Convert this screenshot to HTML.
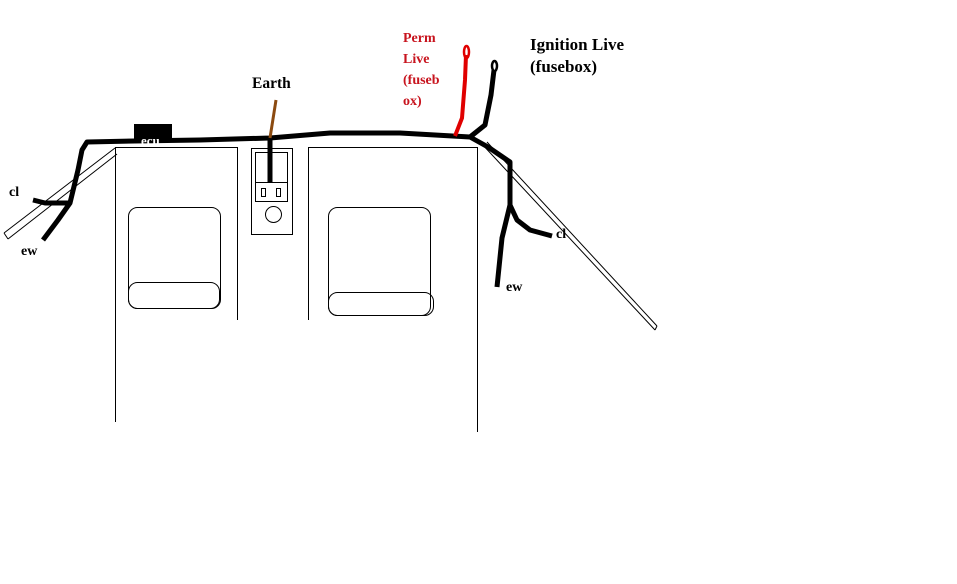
<!DOCTYPE html>
<html><head><meta charset="utf-8"><style>
html,body{margin:0;padding:0;background:#fff;}
svg{display:block;}
text{font-family:"Liberation Serif",serif;font-size:14px;}
</style></head><body>
<svg width="957" height="584" viewBox="0 0 957 584" xmlns="http://www.w3.org/2000/svg">
<rect width="957" height="584" fill="#fff"/>
<g fill="none" stroke="#000" stroke-width="1">
<path d="M115.5 422 V147.5 H237.5 V320"/>
<path d="M308.5 320 V147.5 H477.5 V432"/>
<rect x="128.5" y="207.5" width="92" height="101" rx="9"/>
<rect x="128.5" y="282.5" width="91" height="26" rx="9"/>
<rect x="328.5" y="207.5" width="102" height="108" rx="9"/>
<rect x="328.5" y="292.5" width="105" height="23" rx="9"/>
<rect x="251.5" y="148.5" width="41" height="86"/>
<rect x="255.5" y="152.5" width="32" height="49"/>
<line x1="255.5" y1="182.5" x2="287.5" y2="182.5"/>
<rect x="261.5" y="188.5" width="4" height="8"/>
<rect x="276.5" y="188.5" width="4" height="8"/>
<circle cx="273.5" cy="214.5" r="8"/>
<path d="M4 233 L115 148 M8 239 L117 154 M4 233 L8 239"/>
<path d="M481 143 L655 330 M487 142 L657 326 M655 330 L657 326"/>
</g>
<g fill="none" stroke="#000" stroke-width="5" stroke-linejoin="round" stroke-linecap="butt">
<path d="M43 240 L58 220 L70 203 L78 170 L82 150 L87 142 L135 141 L200 140 L270 138 L330 133 L400 133 L470 137 L488 147 L510 162 L510 205 L502 238 L497 287"/>
<path d="M33 200 L45 203 L70 203"/>
<path d="M510 205 L517 220 L530 230 L552 236"/>
<path d="M470 137 L485 125 L491 95 L494 70"/>
<path d="M270 138 V182"/>
</g>
<ellipse cx="494.5" cy="66" rx="2.5" ry="5" fill="none" stroke="#000" stroke-width="2.5"/>
<path d="M455 136 L462 118 L465 80 L466 55" fill="none" stroke="#e00000" stroke-width="4"/>
<ellipse cx="466.5" cy="52" rx="2.5" ry="6" fill="none" stroke="#e00000" stroke-width="2.5"/>
<path d="M276 100 L270 138" stroke="#8b4a10" stroke-width="3"/>
<rect x="134" y="124" width="38" height="17" fill="#000"/>
<text x="141" y="145" font-weight="bold" fill="#fff" style="font-size:13px">ecu</text>
<text x="252" y="88" font-weight="bold" style="font-size:15.5px">Earth</text>
<g fill="#c8141e" font-weight="bold">
<text x="403" y="42">Perm</text>
<text x="403" y="63">Live</text>
<text x="403" y="84">(fuseb</text>
<text x="403" y="105">ox)</text>
</g>
<text x="530" y="50" font-weight="bold" style="font-size:17px">Ignition Live</text>
<text x="530" y="72" font-weight="bold" style="font-size:17px">(fusebox)</text>
<text x="9" y="196" font-weight="bold">cl</text>
<text x="21" y="255" font-weight="bold">ew</text>
<text x="556" y="238" font-weight="bold">cl</text>
<text x="506" y="291" font-weight="bold">ew</text>
</svg>
</body></html>
